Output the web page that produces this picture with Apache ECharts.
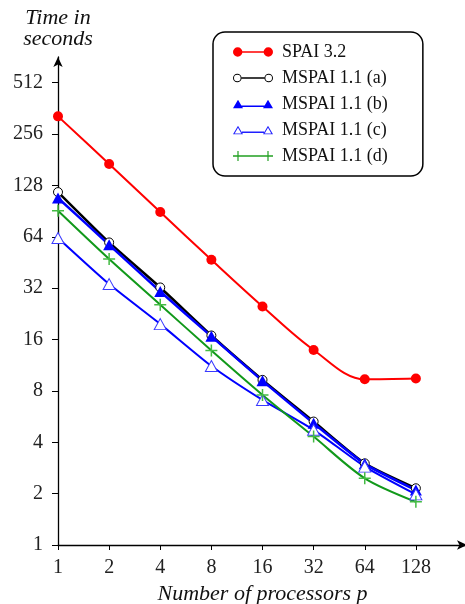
<!DOCTYPE html>
<html>
<head>
<meta charset="utf-8">
<script src="https://cdn.jsdelivr.net/npm/echarts@6/dist/echarts.min.js"></script>
<style>
  html, body { margin: 0; padding: 0; background: #fff; }
  #chart { width: 465px; height: 604px; }
</style>
</head>
<body>
<div id="chart"></div>
<script>
const processors = [1, 2, 4, 8, 16, 32, 64, 128]
const yTicks = [1, 2, 4, 8, 16, 32, 64, 128, 256, 512]
const seriesNames = ['SPAI 3.2', 'MSPAI 1.1 (a)', 'MSPAI 1.1 (b)', 'MSPAI 1.1 (c)', 'MSPAI 1.1 (d)']
const spai = [325, 171, 89.4, 46.9, 25.0, 13.9, 9.35, 9.45]
const mspaiA = [117, 59.3, 32.3, 16.9, 9.28, 5.29, 3.01, 2.15]
const mspaiB = [108, 57.5, 30.6, 16.7, 9.16, 5.17, 2.99, 2.10]
const mspaiC = [63, 33.8, 19.7, 11.2, 7.08, 4.73, 2.88, 1.98]
const mspaiD = [90.9, 47.4, 25.6, 13.8, 7.58, 4.32, 2.46, 1.79]

const font = '"Liberation Serif", "DejaVu Serif", serif'

// small path helpers for the legend icons (marker - line - marker)
function circ (cx, cy, r, sweep) {
  return `M${cx - r},${cy}a${r},${r} 0 1,${sweep} ${2 * r},0a${r},${r} 0 1,${sweep} ${-2 * r},0Z`
}
function rect (x0, y0, x1, y1) {
  return `M${x0},${y0}L${x1},${y0}L${x1},${y1}L${x0},${y1}Z`
}
function tri (x0, y0, x1, y1, x2, y2) {
  return `M${x0},${y0}L${x1},${y1}L${x2},${y2}Z`
}
const icons = [
  circ(4.7, 6, 4.7, 1) + circ(35.3, 6, 4.7, 1) + rect(4.7, 5.2, 35.3, 6.8),
  circ(4.3, 6, 4.3, 1) + circ(4.3, 6, 3.3, 0) + circ(35.7, 6, 4.3, 1) + circ(35.7, 6, 3.3, 0) + rect(8.6, 5.2, 31.4, 6.8),
  tri(0, 10, 5, 1.5, 10, 10) + tri(30, 10, 35, 1.5, 40, 10) + rect(5, 7.2, 35, 8.8),
  tri(0, 10, 5, 1.5, 10, 10) + tri(1.7, 9.2, 8.3, 9.2, 5, 3.4) +
    tri(30, 10, 35, 1.5, 40, 10) + tri(31.7, 9.2, 38.3, 9.2, 35, 3.4) + rect(9, 7.3, 31, 8.7),
  rect(0, 5.4, 10, 6.6) + rect(4.4, 1, 5.6, 11) + rect(30, 5.4, 40, 6.6) + rect(34.4, 1, 35.6, 11) + rect(0, 5.2, 40, 6.8)
]
const iconColors = ['#ff0000', '#000000', '#0000ff', '#2020ff', '#22a022']

const pairs = arr => processors.map((p, i) => [p, arr[i]])

const chart = echarts.init(document.getElementById('chart'))
chart.setOption({
  animation: false,
  backgroundColor: '#fff',
  grid: {
    left: 58,
    right: -2,
    top: 57,
    bottom: 59,
    containLabel: false,
    outerBoundsMode: 'none'
  },
  legend: {
    left: 213,
    top: 32,
    orient: 'vertical',
    selectedMode: false,
    padding: [10, 35, 10, 20],
    itemWidth: 40,
    itemHeight: 12,
    itemGap: 6,
    borderColor: '#000',
    borderWidth: 1.5,
    borderRadius: 12,
    backgroundColor: '#fff',
    textStyle: {
      fontFamily: font,
      fontSize: 18,
      lineHeight: 20,
      color: '#111',
      padding: [0, 0, 0, 4]
    },
    data: seriesNames.map((name, i) => ({
      name: name,
      icon: 'path://' + icons[i],
      itemStyle: { color: iconColors[i], borderWidth: 0 }
    }))
  },
  xAxis: {
    type: 'log',
    logBase: 2,
    min: 1,
    max: 256,
    name: 'Number of processors p',
    nameLocation: 'middle',
    nameGap: 38,
    nameTextStyle: {
      fontFamily: font,
      fontStyle: 'italic',
      fontSize: 22,
      color: '#111'
    },
    axisLine: {
      lineStyle: { color: '#000', width: 1.3 },
      symbol: ['none', 'arrow'],
      symbolSize: [7, 10]
    },
    axisTick: { length: 5, lineStyle: { color: '#000', width: 1 }, customValues: processors },
    axisLabel: {
      margin: 13,
      fontFamily: font,
      fontSize: 20,
      color: '#222',
      customValues: processors
    },
    splitLine: { show: false }
  },
  yAxis: {
    type: 'log',
    logBase: 2,
    min: 1,
    max: Math.pow(2, 9.5),
    name: 'Time in\nseconds',
    nameLocation: 'end',
    nameGap: 7,
    nameTextStyle: {
      fontFamily: font,
      fontStyle: 'italic',
      fontSize: 22,
      lineHeight: 21,
      align: 'center',
      color: '#111'
    },
    axisLine: {
      lineStyle: { color: '#000', width: 1.3 },
      symbol: ['none', 'arrow'],
      symbolSize: [7, 10]
    },
    axisTick: { length: 6, lineStyle: { color: '#000', width: 1 }, customValues: yTicks },
    axisLabel: {
      margin: 15,
      fontFamily: font,
      fontSize: 20,
      color: '#222',
      customValues: yTicks
    },
    splitLine: { show: false }
  },
  series: [{
    name: seriesNames[0],
    type: 'line',
    smooth: 0.35,
    data: pairs(spai),
    symbol: 'circle',
    symbolSize: 10,
    itemStyle: { color: '#ff0000' },
    lineStyle: { color: '#ff0000', width: 2 }
  }, {
    name: seriesNames[1],
    type: 'line',
    smooth: 0.2,
    data: pairs(mspaiA),
    symbol: 'circle',
    symbolSize: 9,
    itemStyle: { color: '#fff', borderColor: '#000', borderWidth: 1 },
    lineStyle: { color: '#000', width: 2.5 }
  }, {
    name: seriesNames[2],
    type: 'line',
    smooth: 0.2,
    data: pairs(mspaiB),
    symbol: 'triangle',
    symbolSize: [12, 11],
    itemStyle: { color: '#0000ff' },
    lineStyle: { color: '#0000ff', width: 2.5 }
  }, {
    name: seriesNames[3],
    type: 'line',
    smooth: 0.2,
    data: pairs(mspaiC),
    symbol: 'triangle',
    symbolSize: [12, 11],
    itemStyle: { color: '#fff', borderColor: '#3a3aff', borderWidth: 1 },
    lineStyle: { color: '#0000ff', width: 2 }
  }, {
    name: seriesNames[4],
    type: 'line',
    smooth: 0.3,
    data: pairs(mspaiD),
    symbol: 'path://M0,6H12M6,0V12',
    symbolSize: 12,
    itemStyle: { color: '#44bb44', borderColor: '#44bb44', borderWidth: 1.5 },
    lineStyle: { color: '#11991a', width: 2 }
  }]
})
</script>
</body>
</html>
